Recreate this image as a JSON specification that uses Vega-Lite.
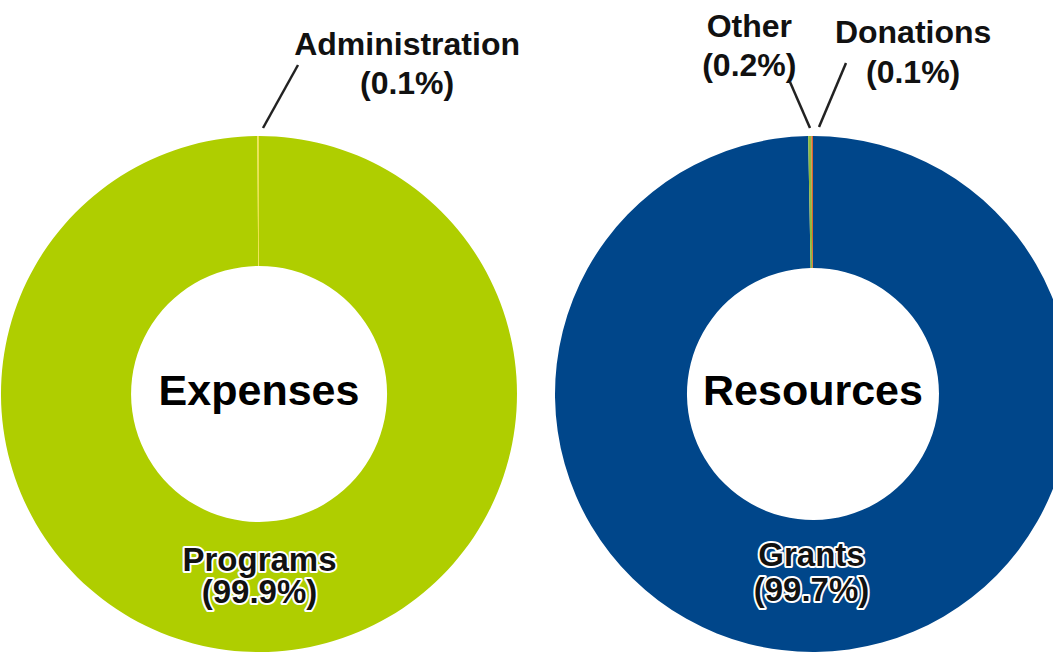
{
  "$schema": "https://vega.github.io/schema/vega-lite/v6.json",
  "width": 1053,
  "height": 656,
  "padding": 0,
  "autosize": {"type": "none"},
  "background": "white",
  "config": {"view": {"stroke": null}, "font": "Liberation Sans", "text": {"font": "Liberation Sans"}},
  "data": {
    "values": [
      {"chart": "Expenses", "category": "Programs", "value": 99.9, "label": "Programs\n(99.9%)"},
      {"chart": "Expenses", "category": "Administration", "value": 0.1, "label": "Administration\n(0.1%)"},
      {"chart": "Resources", "category": "Grants", "value": 99.7, "label": "Grants\n(99.7%)"},
      {"chart": "Resources", "category": "Other", "value": 0.2, "label": "Other\n(0.2%)"},
      {"chart": "Resources", "category": "Donations", "value": 0.1, "label": "Donations\n(0.1%)"}
    ]
  },
  "encoding": {
    "x": {"field": "chart", "type": "nominal", "scale": {"type": "point", "domain": ["Expenses", "Resources"], "range": [259, 813], "padding": 0}, "axis": null},
    "y": {"field": "chart", "type": "nominal", "scale": {"type": "point", "domain": ["Expenses", "Resources"], "range": [394, 394], "padding": 0}, "axis": null}
  },
  "layer": [
    {
      "transform": [{"filter": "datum.chart === 'Expenses'"}],
      "layer": [
        {
          "mark": {"type": "arc", "radius": 258, "radius2": 128},
          "encoding": {
            "theta": {"field": "value", "type": "quantitative", "stack": true, "scale": {"domain": [0, 100]}},
            "order": {"field": "value", "sort": "descending"},
            "color": {"field": "category", "type": "nominal", "legend": null,
              "scale": {"domain": ["Programs", "Administration", "Grants", "Other", "Donations"],
                        "range": ["#AFCE00", "#F0E24A", "#00468A", "#8DBB3C", "#D9632F"]}}
          }
        },
        {
          "transform": [{"filter": "datum.category === 'Programs'"}],
          "mark": {"type": "text", "radius": 167, "fontSize": 33, "fontWeight": "bold", "lineBreak": "\n", "lineHeight": 32, "align": "center", "baseline": "middle", "fill": "white", "stroke": "white", "strokeWidth": 4, "strokeJoin": "round"},
          "encoding": {
            "theta": {"field": "value", "type": "quantitative", "stack": true, "scale": {"domain": [0, 100]}},
            "text": {"field": "label"}
          }
        },
        {
          "transform": [{"filter": "datum.category === 'Programs'"}],
          "mark": {"type": "text", "radius": 167, "fontSize": 33, "fontWeight": "bold", "lineBreak": "\n", "lineHeight": 32, "align": "center", "baseline": "middle", "color": "#111111"},
          "encoding": {
            "theta": {"field": "value", "type": "quantitative", "stack": true, "scale": {"domain": [0, 100]}},
            "text": {"field": "label"}
          }
        },
        {
          "transform": [{"filter": "datum.category === 'Programs'"}],
          "mark": {"type": "text", "fontSize": 43, "fontWeight": "bold", "align": "center", "baseline": "middle", "dy": -2, "color": "#000000"},
          "encoding": {"text": {"field": "chart"}}
        },
        {
          "transform": [{"filter": "datum.category === 'Administration'"}],
          "mark": {"type": "text", "radius": 349, "dx": 147, "fontSize": 32, "fontWeight": "bold", "lineBreak": "\n", "lineHeight": 39, "align": "center", "baseline": "middle", "color": "#111111"},
          "encoding": {
            "theta": {"field": "value", "type": "quantitative", "stack": true, "scale": {"domain": [0, 100]}},
            "text": {"field": "label"}
          }
        },
        {
          "transform": [{"filter": "datum.category === 'Administration'"}],
          "mark": {"type": "rule", "xOffset": 4, "yOffset": -266, "x2Offset": 39, "y2Offset": -329, "strokeWidth": 2.5, "color": "#222222"},
          "encoding": {
            "x2": {"field": "chart"},
            "y2": {"field": "chart"}
          }
        }
      ]
    },
    {
      "transform": [{"filter": "datum.chart === 'Resources'"}],
      "layer": [
        {
          "mark": {"type": "arc", "radius": 258, "radius2": 126},
          "encoding": {
            "theta": {"field": "value", "type": "quantitative", "stack": true, "scale": {"domain": [0, 100]}},
            "order": {"field": "value", "sort": "descending"},
            "color": {"field": "category", "type": "nominal", "legend": null}
          }
        },
        {
          "transform": [{"filter": "datum.category === 'Grants'"}],
          "mark": {"type": "text", "radius": 162, "dx": -3, "fontSize": 33, "fontWeight": "bold", "lineBreak": "\n", "lineHeight": 35, "align": "center", "baseline": "middle", "fill": "white", "stroke": "white", "strokeWidth": 4, "strokeJoin": "round"},
          "encoding": {
            "theta": {"field": "value", "type": "quantitative", "stack": true, "scale": {"domain": [0, 100]}},
            "text": {"field": "label"}
          }
        },
        {
          "transform": [{"filter": "datum.category === 'Grants'"}],
          "mark": {"type": "text", "radius": 162, "dx": -3, "fontSize": 33, "fontWeight": "bold", "lineBreak": "\n", "lineHeight": 35, "align": "center", "baseline": "middle", "color": "#111111"},
          "encoding": {
            "theta": {"field": "value", "type": "quantitative", "stack": true, "scale": {"domain": [0, 100]}},
            "text": {"field": "label"}
          }
        },
        {
          "transform": [{"filter": "datum.category === 'Grants'"}],
          "mark": {"type": "text", "fontSize": 43, "fontWeight": "bold", "align": "center", "baseline": "middle", "dy": -2, "color": "#000000"},
          "encoding": {"text": {"field": "chart"}}
        },
        {
          "transform": [{"filter": "datum.category === 'Other'"}],
          "mark": {"type": "text", "radius": 367, "dx": -66, "fontSize": 32, "fontWeight": "bold", "lineBreak": "\n", "lineHeight": 39, "align": "center", "baseline": "middle", "color": "#111111"},
          "encoding": {
            "theta": {"field": "value", "type": "quantitative", "stack": true, "scale": {"domain": [0, 100]}},
            "text": {"field": "label"}
          }
        },
        {
          "transform": [{"filter": "datum.category === 'Donations'"}],
          "mark": {"type": "text", "radius": 361, "dx": 99, "fontSize": 32, "fontWeight": "bold", "lineBreak": "\n", "lineHeight": 40, "align": "center", "baseline": "middle", "color": "#111111"},
          "encoding": {
            "theta": {"field": "value", "type": "quantitative", "stack": true, "scale": {"domain": [0, 100]}},
            "text": {"field": "label"}
          }
        },
        {
          "transform": [{"filter": "datum.category === 'Other'"}],
          "mark": {"type": "rule", "xOffset": -23, "yOffset": -312, "x2Offset": -3, "y2Offset": -266, "strokeWidth": 2.5, "color": "#222222"},
          "encoding": {
            "x2": {"field": "chart"},
            "y2": {"field": "chart"}
          }
        },
        {
          "transform": [{"filter": "datum.category === 'Donations'"}],
          "mark": {"type": "rule", "xOffset": 33, "yOffset": -331, "x2Offset": 6, "y2Offset": -267, "strokeWidth": 2.5, "color": "#222222"},
          "encoding": {
            "x2": {"field": "chart"},
            "y2": {"field": "chart"}
          }
        }
      ]
    }
  ]
}
